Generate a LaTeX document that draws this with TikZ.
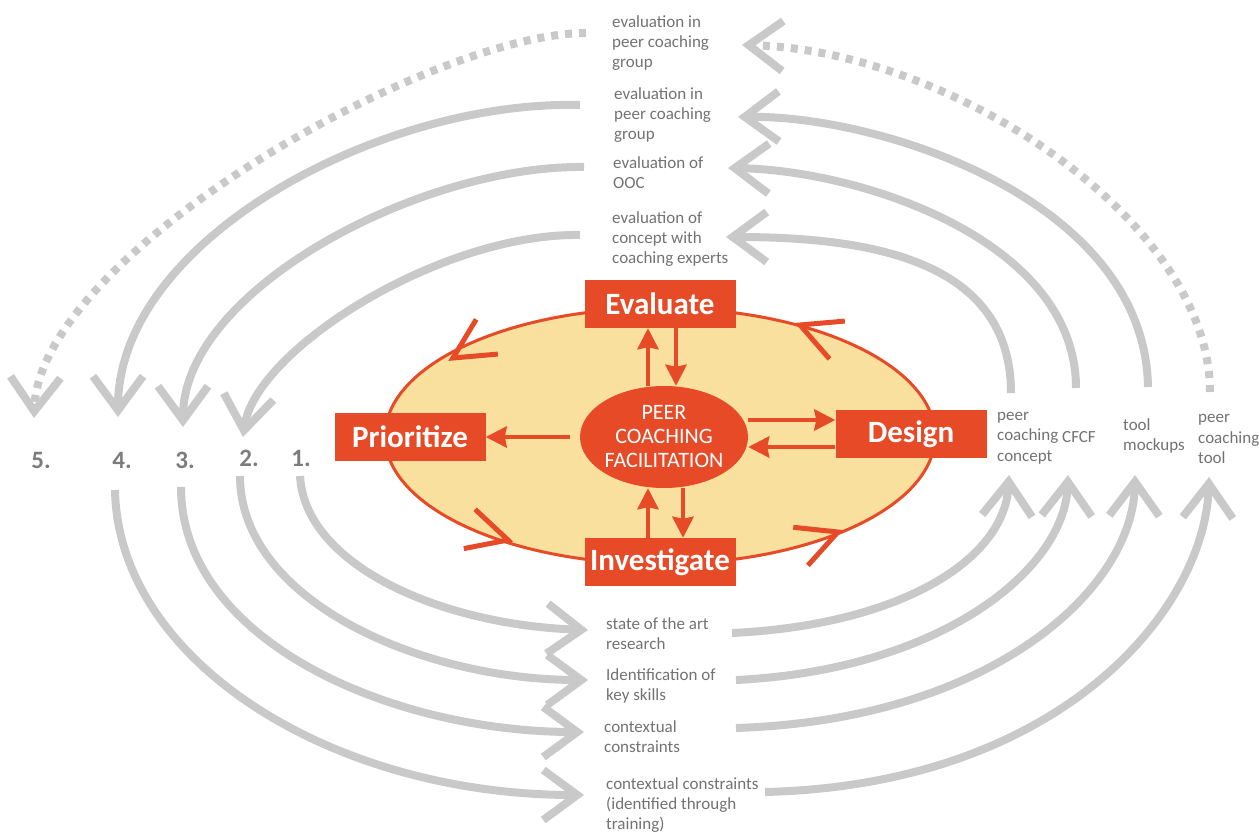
\documentclass[tikz,border=0pt]{standalone}
\usepackage{fontspec}
\setmainfont{Carlito}
\usetikzlibrary{arrows.meta,calc,shapes.geometric}
\definecolor{ored}{HTML}{E64A27}
\definecolor{ofill}{HTML}{FAE09E}
\definecolor{arcgray}{HTML}{C9C9C9}
\definecolor{txtgray}{HTML}{727272}
\definecolor{numgray}{HTML}{7C7C7C}
\newcommand\ochevron[3]{\draw[chev] (#1,#2) ++(#3+207:45pt) -- (#1,#2) -- ++(#3+153:45pt);}
\begin{document}
\begin{tikzpicture}[x=1pt,y=-1pt,
  lbl/.style={anchor=west, align=left, inner sep=0pt, text=txtgray, font=\fontsize{17}{20.3}\selectfont},
  num/.style={inner sep=0pt, text=numgray, font=\bfseries\fontsize{25}{25}\selectfont},
  box/.style={fill=ored, text=white, minimum width=151pt, minimum height=48pt, inner sep=0pt, font=\bfseries\fontsize{31}{31}\selectfont},
  garc/.style={draw=arcgray, line width=8pt, -{Straight Barb[length=34pt,width=50pt]}},
  gdot/.style={garc, dash pattern=on 7pt off 7pt},
  oarr/.style={draw=ored, line width=4.5pt, -{Stealth[length=21pt,width=21pt,inset=2pt]}},
  chev/.style={draw=ored, line width=5pt},
]
\useasboundingbox (0,0) rectangle (1259,832);

% labels
\node[lbl] (t1) at (612,43) {evaluation in\\peer coaching\\group};
\node[lbl] (t2) at (614,115) {evaluation in\\peer coaching\\group};
\node[lbl] (t3) at (613,173) {evaluation of\\OOC};
\node[lbl] (t4) at (612,239) {evaluation of\\concept with\\coaching experts};
\node[lbl] (r1) at (997,438) {peer\\coaching\\concept};
\node[lbl] (r2) at (1062,437) {CFCF};
\node[lbl] (r3) at (1123,436) {tool\\mockups};
\node[lbl] (r4) at (1198,439) {peer\\coaching\\tool};
\node[lbl] (b1) at (606,634) {state of the art\\research};
\node[lbl] (b2) at (606,686) {Identification of\\key skills};
\node[lbl] (b3) at (604,737) {contextual\\constraints};
\node[lbl] (b4) at (606,805) {contextual constraints\\(identified through\\training)};
\node[num] (n5) at (41,460) {5.};
\node[num] (n4) at (122,460) {4.};
\node[num] (n3) at (185,460) {3.};
\node[num] (n2) at (249,458) {2.};
\node[num] (n1) at (301,458) {1.};

% connector end points
\coordinate (d5s) at (586,33);   \coordinate (d5e) at (34,418);
\coordinate (a4s) at (580,105);  \coordinate (a4e) at (118,417);
\coordinate (a3s) at (584,167);  \coordinate (a3e) at (183,427);
\coordinate (a2s) at (580,235);  \coordinate (a2e) at (243,437);
\coordinate (dRs) at (1210,392); \coordinate (dRe) at (742,45);
\coordinate (r2s) at (1148,387); \coordinate (r2e) at (738,117);
\coordinate (r3s) at (1076,388); \coordinate (r3e) at (728,168);
\coordinate (r4s) at (1011,393); \coordinate (r4e) at (726,237);
\coordinate (l1s) at (300,476);  \coordinate (l1e) at (588,630);
\coordinate (l2s) at (240,476);  \coordinate (l2e) at (588,680);
\coordinate (l3s) at (181,487);  \coordinate (l3e) at (584,732);
\coordinate (l4s) at (115,490);  \coordinate (l4e) at (584,795);
\coordinate (c1s) at (732,633);  \coordinate (c1e) at (1009,475);
\coordinate (c2s) at (736,680);  \coordinate (c2e) at (1068,475);
\coordinate (c3s) at (736,728);  \coordinate (c3e) at (1135,475);
\coordinate (c4s) at (765,792);  \coordinate (c4e) at (1209,477);

% gray arcs
\draw[gdot] (d5s) .. controls (430,33) and (40,255) .. (d5e);
\draw[garc] (a4s) .. controls (380,100) and (118,240) .. (a4e);
\draw[garc] (a3s) .. controls (420,165) and (183,290) .. (a3e);
\draw[garc] (a2s) .. controls (440,233) and (255,350) .. (a2e);
\draw[gdot] (dRs) .. controls (1210,220) and (950,50) .. (dRe);
\draw[garc] (r2s) .. controls (1145,200) and (880,115) .. (r2e);
\draw[garc] (r3s) .. controls (1076,240) and (860,170) .. (r3e);
\draw[garc] (r4s) .. controls (1011,260) and (870,237) .. (r4e);
\draw[garc] (l1s) .. controls (305,565) and (440,625) .. (l1e);
\draw[garc] (l2s) .. controls (240,600) and (420,680) .. (l2e);
\draw[garc] (l3s) .. controls (181,640) and (390,732) .. (l3e);
\draw[garc] (l4s) .. controls (118,660) and (330,795) .. (l4e);
\draw[garc] (c1s) .. controls (900,625) and (1005,560) .. (c1e);
\draw[garc] (c2s) .. controls (940,670) and (1065,570) .. (c2e);
\draw[garc] (c3s) .. controls (990,720) and (1133,590) .. (c3e);
\draw[garc] (c4s) .. controls (1060,785) and (1205,610) .. (c4e);

% central cycle
\draw[ored, line width=3pt, fill=ofill] (660,436) ellipse [x radius=275, y radius=128];
\ochevron{453}{358}{212}
\ochevron{800}{325}{158}
\ochevron{508}{540}{-16}
\ochevron{838}{532}{21}

\node[box] (eval) at (660,304) {Evaluate};
\node[box] (prio) at (410,437) {Prioritize};
\node[box] (des) at (911,434) {Design};
\node[box] (inv) at (660,562) {Investigate};
\node[ellipse, fill=ored, minimum width=168pt, minimum height=102pt, inner sep=0pt] (cen) at (664,437) {};
\node[align=center, text=white, inner sep=0pt, font=\fontsize{22}{24}\selectfont] (centxt) at (cen.center) {PEER\\COACHING\\FACILITATION};

\draw[oarr] ([xshift=-16pt]cen.north) -- ([xshift=-12pt]eval.south);
\draw[oarr] ([xshift=16pt]eval.south) -- ([xshift=12pt]cen.north);
\draw[oarr] ([xshift=-10pt]cen.west) -- (prio.east);
\draw[oarr] ([yshift=17pt]cen.east) -- ([yshift=14pt]des.west);
\draw[oarr] ([yshift=-13pt]des.west) -- ([yshift=-10pt]cen.east);
\draw[oarr] ([xshift=-12pt]inv.north) -- ([xshift=-16pt]cen.south);
\draw[oarr] ([xshift=19pt]cen.south) -- ([xshift=23pt]inv.north);
\end{tikzpicture}
\end{document}
